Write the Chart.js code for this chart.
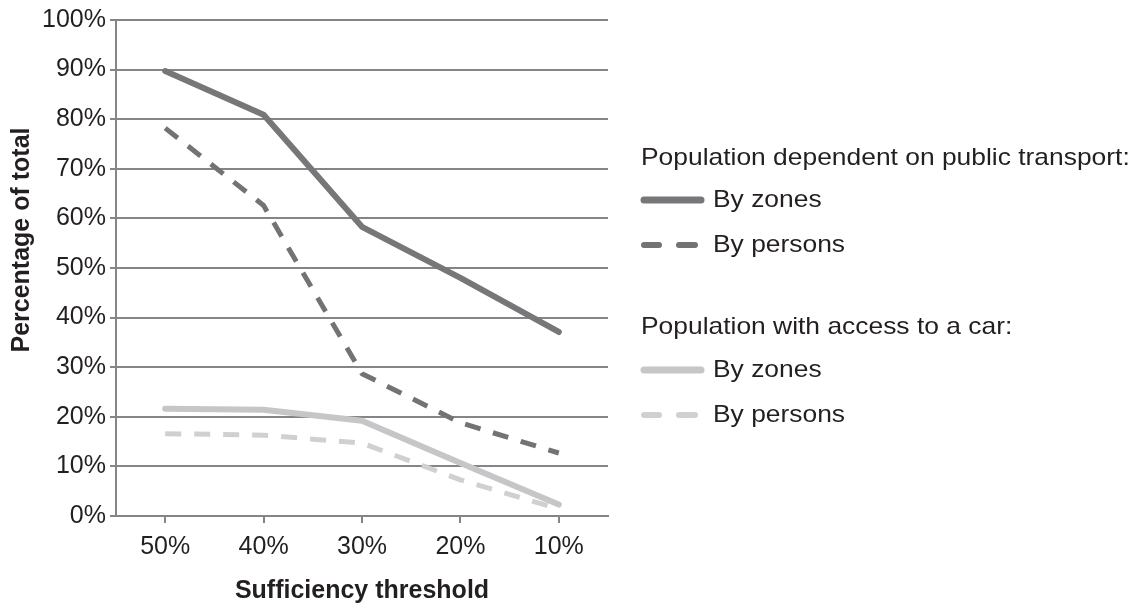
<!DOCTYPE html>
<html>
<head>
<meta charset="utf-8">
<script src="https://cdn.jsdelivr.net/npm/chart.js@4"></script>
<style>
  html, body { margin: 0; padding: 0; background: #fff; }
  #wrap { width: 1133px; height: 606px; position: relative; }
</style>
</head>
<body>
<div id="wrap"><canvas id="chart" width="1133" height="606"></canvas></div>
<script>
// thresholds on the x axis
const thresholds = ['50%', '40%', '30%', '20%', '10%'];
// public transport dependent population
const ptByZones = [89.7, 80.9, 58.3, 48.0, 37.1];
const ptByPersons = [78.2, 62.6, 28.7, 18.8, 12.7];
// population with access to a car
const carByZones = [21.6, 21.4, 19.2, 10.7, 2.3];
const carByPersons = [16.6, 16.3, 14.7, 7.3, 1.4];
const legendHeadings = ['Population dependent on public transport:', 'Population with access to a car:'];
const seriesNames = ['By zones', 'By persons'];
const yTitle = 'Percentage of total';

const textColor = '#231f20';
const gridColor = '#858588';
const font = 'Liberation Sans, Arial, Helvetica, sans-serif';

const darkGrey = '#77777a';
const lightGrey = '#c6c6c8';

// legend drawn by hand because of the group headings
const groupedLegend = {
    id: 'groupedLegend',
    afterDraw(chart) {
        const ctx = chart.ctx;
        const ds = chart.data.datasets;
        const x0 = 641;
        const rows = [
            { head: legendHeadings[0], y: 158 },
            { ds: 0, y: 200 },
            { ds: 1, y: 245 },
            { head: legendHeadings[1], y: 327 },
            { ds: 2, y: 370 },
            { ds: 3, y: 415 }
        ];
        function label(txt, x, y) {
            // the original type is a bit wider than Liberation Sans
            ctx.save();
            ctx.translate(x, y);
            ctx.scale(1.1, 1);
            ctx.fillText(txt, 0, 0);
            ctx.restore();
        }
        ctx.save();
        ctx.font = '24px ' + font;
        ctx.fillStyle = textColor;
        ctx.textBaseline = 'middle';
        rows.forEach(r => {
            if (r.head) {
                label(r.head, x0, r.y);
                return;
            }
            const d = ds[r.ds];
            ctx.strokeStyle = d.borderColor;
            ctx.lineWidth = d.borderWidth + 1;
            ctx.lineCap = 'round';
            if (d.borderDash.length) {
                // two short dashes
                ctx.beginPath();
                ctx.moveTo(x0 + 3, r.y); ctx.lineTo(x0 + 18, r.y);
                ctx.moveTo(x0 + 38, r.y); ctx.lineTo(x0 + 54, r.y);
                ctx.stroke();
            } else {
                ctx.beginPath();
                ctx.moveTo(x0 + 3, r.y); ctx.lineTo(x0 + 60, r.y);
                ctx.stroke();
            }
            label(seriesNames[r.ds % 2], x0 + 72, r.y);
        });

        // y axis title, sits a little above the middle of the axis in the original
        ctx.font = 'bold 25px ' + font;
        ctx.textAlign = 'center';
        ctx.translate(22, 240);
        ctx.rotate(-Math.PI / 2);
        ctx.fillText(yTitle, 0, 0);
        ctx.restore();
    }
};

new Chart(document.getElementById('chart'), {
    type: 'line',
    data: {
        labels: thresholds,
        datasets: [
            { label: 'PT by zones', data: ptByZones, borderColor: darkGrey, borderWidth: 6, borderDash: [], borderCapStyle: 'round', borderJoinStyle: 'round' },
            { label: 'PT by persons', data: ptByPersons, borderColor: '#737376', borderWidth: 5, borderDash: [16, 13], borderJoinStyle: 'round' },
            { label: 'Car by zones', data: carByZones, borderColor: lightGrey, borderWidth: 6, borderDash: [], borderCapStyle: 'round', borderJoinStyle: 'round' },
            { label: 'Car by persons', data: carByPersons, borderColor: '#d0d0d2', borderWidth: 5, borderDash: [16, 13], borderJoinStyle: 'round' }
        ]
    },
    options: {
        responsive: false,
        animation: false,
        layout: { padding: { left: 0, right: 525, top: 20, bottom: 0 } },
        elements: { point: { radius: 0 }, line: { tension: 0 } },
        plugins: { legend: { display: false }, tooltip: { enabled: false } },
        scales: {
            x: {
                offset: true,
                grid: { display: true, drawOnChartArea: false, offset: false, color: gridColor, lineWidth: 2, tickLength: 7 },
                border: { display: true, color: gridColor, width: 2 },
                ticks: { color: textColor, font: { family: font, size: 25 }, padding: 9 },
                title: { display: true, text: 'Sufficiency threshold', color: textColor, font: { family: font, size: 25, weight: 'bold' }, padding: { top: 17, bottom: 0 } },
                afterFit(scale) { scale.height = 90; }
            },
            y: {
                min: 0,
                max: 100,
                ticks: { stepSize: 10, color: textColor, font: { family: font, size: 25 }, padding: 4, callback: v => v + '%' },
                grid: { color: gridColor, lineWidth: 2, tickLength: 6 },
                border: { display: true, color: gridColor, width: 2 },
                title: { display: false },
                afterFit(scale) { scale.width = 116; }
            }
        }
    },
    plugins: [groupedLegend]
});
</script>
</body>
</html>
